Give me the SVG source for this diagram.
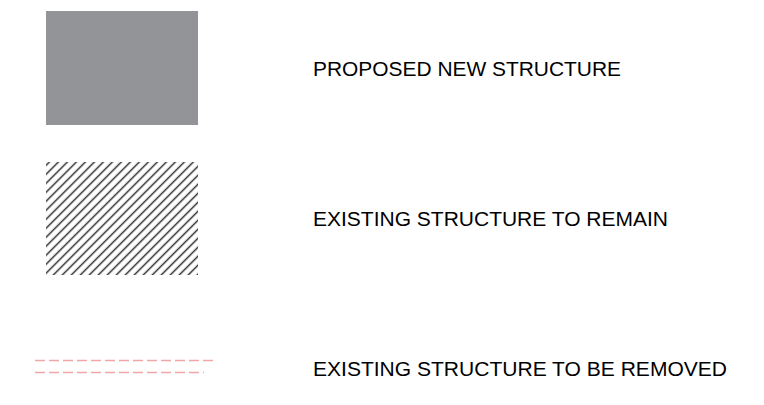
<svg xmlns="http://www.w3.org/2000/svg" width="764" height="405" viewBox="0 0 764 405">
<style>
.lbl{font-family:"Liberation Sans",Arial,sans-serif;font-size:20px;fill:#000000}
.rm{stroke:#f0a6a6;stroke-width:1.7;stroke-dasharray:10 4;fill:none}
</style>
<defs>
<pattern id="hatch" patternUnits="userSpaceOnUse" width="6.36" height="10" patternTransform="rotate(45)">
<line x1="3.18" y1="0" x2="3.18" y2="10" stroke="#262626" stroke-width="1.45"/>
</pattern>
</defs>
<rect width="764" height="405" fill="#ffffff"/>
<g id="proposed">
<rect x="46" y="11" width="152" height="114" fill="#939498"/>
<text class="lbl" x="313" y="76" textLength="308" lengthAdjust="spacingAndGlyphs">PROPOSED NEW STRUCTURE</text>
</g>
<g id="existing">
<rect x="46" y="162" width="152" height="113" fill="url(#hatch)"/>
<text class="lbl" x="313" y="226" textLength="355" lengthAdjust="spacingAndGlyphs">EXISTING STRUCTURE TO REMAIN</text>
</g>
<g id="removed">
<line class="rm" x1="35" y1="360.5" x2="216" y2="360.5"/>
<line class="rm" x1="35" y1="372.5" x2="204" y2="372.5"/>
<text class="lbl" x="313" y="376" textLength="414" lengthAdjust="spacingAndGlyphs">EXISTING STRUCTURE TO BE REMOVED</text>
</g>
<g id="connectors"/>
</svg>
